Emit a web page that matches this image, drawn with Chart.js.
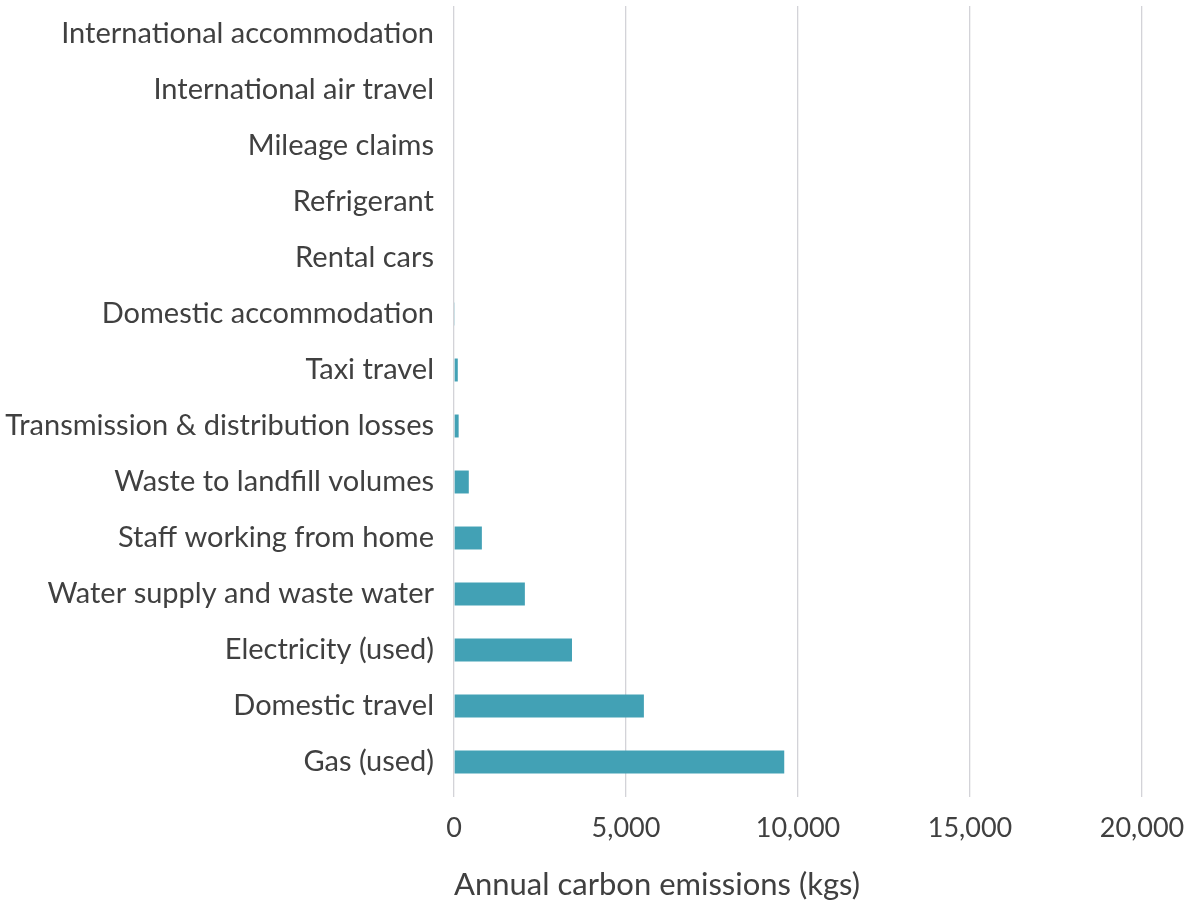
<!DOCTYPE html>
<html>
<head>
<meta charset="utf-8">
<script src="https://cdn.jsdelivr.net/npm/chart.js@4/dist/chart.umd.min.js"></script>
<style>
    html, body { margin: 0; padding: 0; background: #ffffff; }
    #wrap { width: 1186px; height: 904px; }
</style>
</head>
<body>
<div id="wrap"><canvas id="emissionsChart" width="1186" height="904"></canvas></div>
<script>
// Categories, top to bottom as shown
const categorias = [
    'International accommodation',
    'International air travel',
    'Mileage claims',
    'Refrigerant',
    'Rental cars',
    'Domestic accommodation',
    'Taxi travel',
    'Transmission & distribution losses',
    'Waste to landfill volumes',
    'Staff working from home',
    'Water supply and waste water',
    'Electricity (used)',
    'Domestic travel',
    'Gas (used)'
];

// Annual emissions in kg
const emisiones = [0, 0, 0, 0, 0, 25, 110, 135, 430, 810, 2060, 3430, 5520, 9600];

const ticksX = [0, 5000, 10000, 15000, 20000];

const textColor = '#404040';
const fontFamily = "'Lato', 'Open Sans', sans-serif";

document.addEventListener('DOMContentLoaded', function () {
    const ctx = document.getElementById('emissionsChart').getContext('2d');

    new Chart(ctx, {
        type: 'bar',
        data: {
            labels: categorias,
            datasets: [{
                data: emisiones,
                backgroundColor: '#42a1b5',
                borderWidth: 0,
                barPercentage: 0.41,
                categoryPercentage: 1.0
            }]
        },
        options: {
            indexAxis: 'y',
            responsive: false,
            animation: false,
            layout: { padding: { top: 6, right: 44, left: 0, bottom: 0 } },
            plugins: {
                legend: { display: false },
                tooltip: { enabled: false }
            },
            scales: {
                x: {
                    min: 0,
                    max: 20000,
                    afterBuildTicks: axis => { axis.ticks = ticksX.map(v => ({ value: v })); },
                    afterFit: axis => {
                        axis.height = 114;
                        axis.paddingLeft = 0;
                        axis.paddingRight = 0;
                    },
                    ticks: {
                        color: textColor,
                        font: { family: fontFamily, size: 27 },
                        padding: 15,
                        maxRotation: 0,
                        callback: v => v.toLocaleString('en-US')
                    },
                    grid: {
                        color: '#d3d3d8',
                        lineWidth: 1.3,
                        tickLength: 7,
                        drawTicks: true
                    },
                    border: { display: false },
                    title: {
                        display: true,
                        align: 'start',
                        text: 'Annual carbon emissions (kgs)',
                        color: textColor,
                        font: { family: fontFamily, size: 31 },
                        padding: { top: 12, bottom: 0 }
                    }
                },
                y: {
                    afterFit: axis => {
                        axis.width = 454;
                        axis.paddingTop = 0;
                        axis.paddingBottom = 0;
                    },
                    ticks: {
                        color: textColor,
                        font: { family: fontFamily, size: 29 },
                        padding: 20
                    },
                    grid: { display: false, drawTicks: false },
                    border: { display: false }
                }
            }
        }
    });
});
</script>
</body>
</html>
